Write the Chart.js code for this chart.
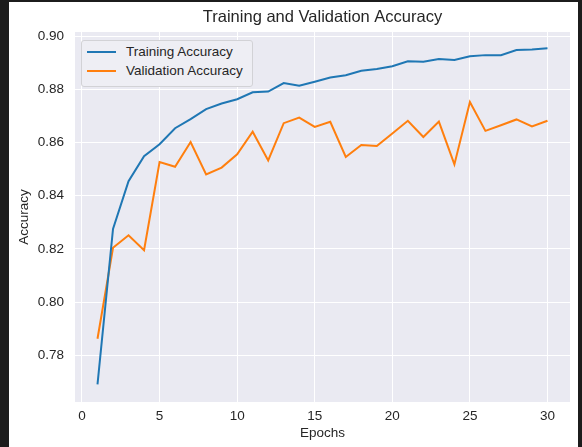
<!DOCTYPE html>
<html>
<head>
<meta charset="utf-8">
<script src="https://cdn.jsdelivr.net/npm/chart.js@4"></script>
<style>
  body { margin: 0; background: #1c1c1c; width: 582px; height: 447px; overflow: hidden; }
  #panel { position: absolute; left: 9px; top: 2px; width: 569px; height: 445px; background: #ffffff; }
  #legend {
    position: absolute; left: 72px; top: 38px; width: 170px; height: 45px;
    background: #eeeef4; border: 1px solid #d2d2d6; border-radius: 3px;
    font-family: "Liberation Sans", Arial, sans-serif; font-size: 13.5px; color: #262626;
  }
  .row { position: absolute; left: 0; height: 18px; line-height: 18px; white-space: nowrap; }
  .swatch { position: absolute; left: 5px; top: 8px; width: 29px; height: 2px; }
  .label { position: absolute; left: 44px; top: 0; }
</style>
</head>
<body>
<div id="panel">
  <canvas id="accChart" width="569" height="445"></canvas>
  <div id="legend"></div>
</div>
<script>
const epochs = [1, 2, 3, 4, 5, 6, 7, 8, 9, 10, 11, 12, 13, 14, 15,
  16, 17, 18, 19, 20, 21, 22, 23, 24, 25, 26, 27, 28, 29, 30];
const trainingAccuracy = [0.7690, 0.8275, 0.8455, 0.8549, 0.8594, 0.8654, 0.8688, 0.8726, 0.8747, 0.8763,
  0.8789, 0.8792, 0.8824, 0.8814, 0.8829, 0.8845, 0.8853, 0.8870, 0.8877, 0.8887,
  0.8906, 0.8904, 0.8914, 0.8911, 0.8925, 0.8929, 0.8929, 0.8948, 0.8950, 0.8955];
const validationAccuracy = [0.7862, 0.8204, 0.8251, 0.8195, 0.8527, 0.8509, 0.8602, 0.8480, 0.8506, 0.8556,
  0.8641, 0.8533, 0.8673, 0.8694, 0.8659, 0.8678, 0.8546, 0.8591, 0.8587, 0.8634,
  0.8682, 0.8621, 0.8679, 0.8518, 0.8753, 0.8644, 0.8665, 0.8687, 0.8661, 0.8682];
const xTicks = [0, 5, 10, 15, 20, 25, 30];
const yTicks = [0.78, 0.80, 0.82, 0.84, 0.86, 0.88, 0.90];
const seriesNames = ["Training Accuracy", "Validation Accuracy"];
const seriesColours = ["#1f77b4", "#ff7f0e"];

const textColour = "#262626";
const fontFamily = "'Liberation Sans', Arial, sans-serif";

function toPoints(values) {
  return values.map((v, i) => ({ x: epochs[i], y: v }));
}

// seaborn style grey plot background
const plotBackground = {
  id: "plotBackground",
  beforeDraw(chart) {
    const { ctx, chartArea } = chart;
    ctx.save();
    ctx.fillStyle = "#eaeaf2";
    ctx.fillRect(chartArea.left, chartArea.top, chartArea.right - chartArea.left, chartArea.bottom - chartArea.top);
    ctx.restore();
  },
};

const datasets = [trainingAccuracy, validationAccuracy].map((values, i) => ({
  label: seriesNames[i],
  data: toPoints(values),
  borderColor: seriesColours[i],
  backgroundColor: seriesColours[i],
  borderWidth: 2,
  pointRadius: 0,
  tension: 0,
}));

new Chart(document.getElementById("accChart"), {
  type: "line",
  data: { datasets: datasets },
  plugins: [plotBackground],
  options: {
    responsive: false,
    animation: false,
    layout: { padding: { left: 0, right: 8, top: 0, bottom: 0 } },
    plugins: {
      legend: { display: false },
      tooltip: { enabled: false },
      title: {
        display: true,
        fullSize: false, // centre over the plot area, like matplotlib
        text: "Training and Validation Accuracy",
        color: textColour,
        font: { family: fontFamily, size: 16.5, weight: "normal" },
        padding: { top: 6, bottom: 4.2 },
      },
    },
    scales: {
      x: {
        type: "linear",
        min: -0.45,
        max: 31.45,
        border: { display: false },
        grid: { color: "#ffffff", lineWidth: 1, drawTicks: false },
        afterBuildTicks: (scale) => { scale.ticks = xTicks.map((v) => ({ value: v })); },
        afterFit: (scale) => { scale.height = 45; },
        ticks: {
          color: textColour,
          font: { family: fontFamily, size: 13.5 },
          padding: 6,
          maxRotation: 0,
        },
        title: {
          display: true,
          text: "Epochs",
          color: textColour,
          font: { family: fontFamily, size: 13.5 },
          padding: { top: 0, bottom: 6 },
        },
      },
      y: {
        type: "linear",
        min: 0.7624,
        max: 0.9016,
        border: { display: false },
        grid: { color: "#ffffff", lineWidth: 1, drawTicks: false },
        afterBuildTicks: (scale) => { scale.ticks = yTicks.map((v) => ({ value: v })); },
        afterFit: (scale) => { scale.width = 66; },
        ticks: {
          color: textColour,
          font: { family: fontFamily, size: 13.5 },
          padding: 11,
          callback: (v) => v.toFixed(2),
        },
        title: {
          display: true,
          text: "Accuracy",
          color: textColour,
          font: { family: fontFamily, size: 13.5 },
          padding: { top: 7, bottom: 0 },
        },
      },
    },
  },
});

// legend box drawn inside the plot like matplotlib's upper-left legend
const legend = document.getElementById("legend");
seriesNames.forEach((name, i) => {
  const row = document.createElement("div");
  row.className = "row";
  row.style.top = (2 + i * 19) + "px";
  row.innerHTML = '<span class="swatch" style="background:' + seriesColours[i] + '"></span>' +
    '<span class="label">' + name + "</span>";
  legend.appendChild(row);
});
</script>
</body>
</html>
